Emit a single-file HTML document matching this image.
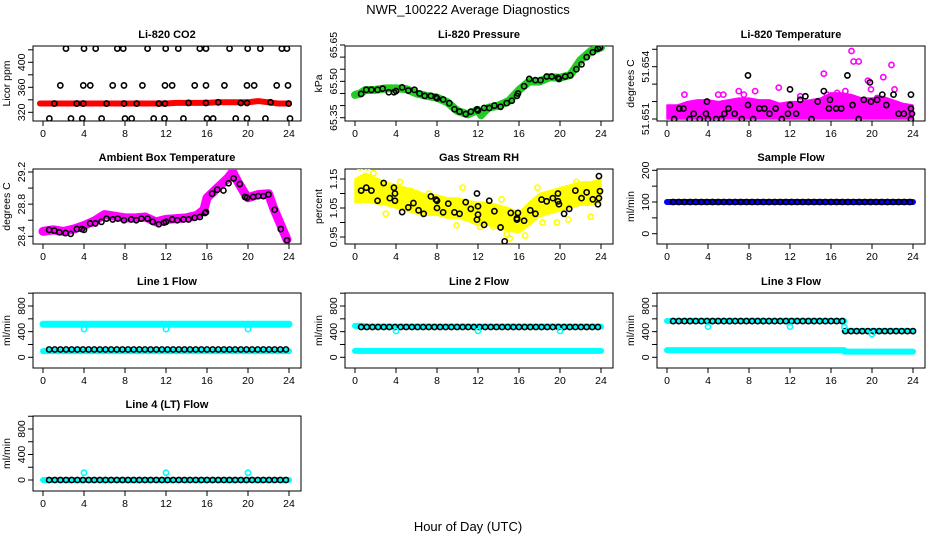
<!DOCTYPE html>
<html><head><meta charset="utf-8">
<style>
html,body{margin:0;padding:0;background:#fff;}
svg{display:block;font-family:"Liberation Sans",Arial,sans-serif;}
</style></head>
<body>
<svg id="chart" width="936" height="540" viewBox="0 0 936 540">
<text x="468" y="14" text-anchor="middle" font-size="13">NWR_100222  Average Diagnostics</text>
<text x="468" y="531" text-anchor="middle" font-size="13">Hour of Day (UTC)</text>
</svg>
<script>
// ---------- data ----------
const xTicks = [0,4,8,12,16,20,24];
// CO2
const co2TopH = [2.24,4.0,5.14,7.25,7.83,10.2,11.97,13.2,15.3,15.9,18.2,19.97,21.2,23.3,23.8];
const co2TopV = [422,422,422,422,422,422,422,422,422,422,422,422,422,422,422];
const co2MidH = [1.69,3.93,4.61,6.8,7.9,9.7,11.9,12.6,14.8,15.9,17.7,19.9,20.6,22.8,23.9];
const co2MidV = [363,363,363,363,363,363,363,363,363,363,363,363,363,363,363];
const co2BandPtH = [1.1,3.29,3.93,6.2,7.9,9.14,11.3,11.9,14.2,15.9,17.1,19.3,19.9,22.2,23.97];
const co2BandPtV = [334,334,334,334,334,334,334,334,335,335,336,335,335,336,334];
const co2LowH = [0.62,2.73,3.83,5.72,8.0,8.65,10.8,11.85,13.7,16.0,16.6,18.8,19.9,21.7,24.1];
const co2LowV = [310,310,310,310,310,310,310,310,310,310,310,310,310,310,310];
const co2RedH = [-0.3,2,4,6,8,10,12,13,14,16,17,18,20,21,22,23,24];
const co2RedV = [334,334,334,334,334,334,334,335,335,335,336,336,336,338,336,334,334];
// Pressure
const presH = [0,0.5,1,2,3,4,5,6,7,8,9,10,11,12,12.3,13,14,15,16,17,18,19,20,21,22,23,24];
const presV = [65.444,65.45,65.464,65.465,65.471,65.471,65.468,65.45,65.44,65.433,65.414,65.378,65.364,65.382,65.36,65.391,65.4,65.419,65.464,65.5,65.499,65.517,65.515,65.526,65.588,65.625,65.64];
const presPtH = [0.6,1.1,1.6,2.2,2.7,3.3,3.8,4.0,4.6,5.2,5.8,6.3,6.8,7.4,7.9,8.0,8.6,9.2,9.7,10.2,10.8,11.3,11.9,12.0,12.6,13.1,13.6,14.2,14.8,15.3,15.8,15.9,16.5,17.0,17.6,18.1,18.7,19.2,19.8,19.9,20.5,21.0,21.6,22.1,22.6,23.2,23.7,23.9];
const presPtV = [65.448,65.465,65.465,65.465,65.47,65.455,65.455,65.46,65.475,65.462,65.465,65.45,65.44,65.44,65.435,65.43,65.425,65.41,65.385,65.375,65.365,65.375,65.385,65.38,65.39,65.39,65.4,65.395,65.41,65.42,65.44,65.45,65.48,65.51,65.505,65.505,65.52,65.52,65.515,65.51,65.52,65.525,65.55,65.57,65.6,65.62,65.635,65.64];
// Ambient box temperature
const ambH = [0,1,2,3,4,5,6,7,8,9,10,11,12,13,14,15,15.7,16,17,18,18.5,19,19.6,20,21,22,22.5,23,23.8];
const ambV = [28.462,28.48,28.46,28.49,28.535,28.59,28.67,28.65,28.63,28.63,28.64,28.58,28.61,28.62,28.63,28.66,28.73,28.88,29.0,29.12,29.2,29.08,28.95,28.88,28.92,28.93,28.75,28.6,28.36];
const ambPtH = [0.6,1.1,1.6,2.2,2.7,3.3,3.8,4.0,4.6,5.1,5.7,6.2,6.8,7.3,7.9,8.6,9.1,9.6,10.2,10.7,11.3,11.8,12.0,12.6,13.1,13.7,14.2,14.8,15.3,15.8,15.9,16.5,17.0,17.6,18.1,18.6,19.2,19.7,19.9,20.5,21.0,21.5,22.0,22.6,23.2,23.8];
const ambPtV = [28.48,28.47,28.45,28.44,28.43,28.49,28.49,28.48,28.56,28.56,28.58,28.62,28.61,28.62,28.6,28.61,28.6,28.62,28.62,28.58,28.55,28.57,28.58,28.61,28.6,28.61,28.61,28.63,28.64,28.69,28.7,28.93,28.98,28.97,29.06,29.12,29.05,28.89,28.88,28.89,28.9,28.9,28.92,28.73,28.49,28.35];
// Li-820 temperature
const tmpH = [0,1,2,3,4,5,6,7,8,9,10,11,12,13,14,15,16,17,18,19,20,21,22,23,24];
const tmpLo = [51.651,51.651,51.651,51.651,51.651,51.651,51.651,51.651,51.651,51.651,51.651,51.651,51.651,51.651,51.651,51.651,51.651,51.651,51.651,51.651,51.651,51.651,51.651,51.651,51.651];
const tmpHi = [51.6518,51.6518,51.652,51.6521,51.6521,51.652,51.6521,51.6522,51.6522,51.6521,51.6521,51.6519,51.652,51.652,51.6521,51.6522,51.6525,51.6525,51.6524,51.6522,51.6522,51.6523,51.6521,51.6519,51.6518];
const tmpOutH = [1.7,5,5.5,7,7.5,8.6,10.9,13,15.3,15.6,16.6,17.4,18,18.2,18.7,19.6,19.9,20.5,21.1,21.9,22.2];
const tmpOutV = [51.6524,51.6524,51.6524,51.6526,51.6524,51.6526,51.6528,51.6523,51.6536,51.6524,51.6525,51.6526,51.6549,51.6543,51.6543,51.6532,51.6527,51.6522,51.6534,51.6541,51.6527];
const tmpPtH = [0.7,1.2,1.6,2.2,2.6,3.2,3.8,3.9,4.0,4.8,5.3,5.6,6.0,6.6,7.3,7.9,7.9,8.4,9.0,9.5,10.0,10.6,11.2,11.8,12.0,12.0,12.6,13.0,13.5,14.1,14.7,15.3,15.8,15.9,16.5,17.0,17.6,18.1,18.7,19.2,19.8,19.9,20.5,21.0,21.4,22.1,22.6,23.1,23.8,23.8,23.9,23.8];
const tmpPtV = [51.651,51.6516,51.6516,51.651,51.6513,51.651,51.6513,51.652,51.651,51.651,51.651,51.6513,51.6516,51.6513,51.651,51.6535,51.6518,51.651,51.6516,51.6516,51.6513,51.6516,51.651,51.6513,51.6527,51.6518,51.6513,51.6521,51.6523,51.651,51.652,51.6526,51.6516,51.6521,51.6516,51.6516,51.6535,51.6518,51.651,51.6521,51.6531,51.652,51.6521,51.6524,51.6518,51.6524,51.6513,51.6513,51.6524,51.6516,51.6513,51.651];
// Gas stream RH
const rhH = [0,1,2,3,4,5,6,7,8,9,10,11,12,13,14,15,16,17,18,19,20,21,22,23,24];
const rhMid = [1.11,1.12,1.11,1.10,1.09,1.08,1.07,1.06,1.06,1.05,1.05,1.04,1.03,1.03,1.02,1.01,1.00,1.03,1.06,1.07,1.08,1.09,1.10,1.10,1.11];
const rhHalf = [0.04,0.05,0.045,0.04,0.04,0.04,0.04,0.035,0.035,0.035,0.035,0.035,0.04,0.04,0.04,0.04,0.035,0.04,0.04,0.04,0.04,0.04,0.04,0.04,0.04];
const rhOutH = [0.5,1.2,1.8,4.4,5.4,7.2,10.5,12.2,13.5,14.3,14.8,15.1,16.6,17.8,18.3,19.7,20.8,21.6,23.0,9.9,3.0];
const rhOutV = [1.19,1.19,1.17,1.14,1.11,1.10,1.12,0.985,0.985,1.08,0.96,0.945,0.955,1.12,1.0,1.0,1.01,1.14,1.02,0.99,1.03];
const rhPtH = [0.6,1.1,1.6,2.2,2.8,3.4,3.8,3.9,3.9,4.6,5.2,5.7,6.2,6.7,7.4,7.9,8.0,8.0,8.6,9.1,9.7,10.2,10.8,11.3,11.9,12.0,12.0,11.9,12.6,13.1,13.6,14.2,14.6,15.2,15.8,15.9,15.8,16.5,17.1,17.6,18.2,18.7,19.3,19.8,19.8,19.9,20.4,20.9,21.5,22.1,22.6,23.2,23.7,23.8,23.8,23.9];
const rhPtV = [1.11,1.12,1.11,1.075,1.136,1.084,1.12,1.1,1.075,1.036,1.052,1.067,1.042,1.03,1.09,1.079,1.075,1.05,1.035,1.065,1.035,1.03,1.07,1.047,1.1,1.056,1.027,1.01,0.992,1.075,1.039,0.983,0.935,1.033,1.01,1.033,1.015,1.006,1.042,1.03,1.079,1.073,1.084,1.1,1.073,1.063,1.03,1.047,1.11,1.084,1.104,1.08,1.063,1.084,1.16,1.108];
// Flows: segments [startHour, endHour, value]
const sampleBlue = [[0,24,100]];
const sampleBlack = [[0.6,24,100]];
const l1CyanTop = [[0,24,516]];
const l1CyanLow = [[0,24,97]];
const l1Black = [[0.6,24,122]];
const l1DipH = [4,12,20]; const l1DipV = [440,440,440];
const l2CyanTop = [[0,0.8,490],[0.8,24,478]];
const l2CyanLow = [[0,24,100]];
const l2Black = [[0.6,24,472]];
const l2DipH = [4,12,20]; const l2DipV = [410,410,410];
const l3CyanTop = [[0,17.3,567],[17.3,24,410]];
const l3CyanLow = [[0,17.3,112],[17.3,24,88]];
const l3Black = [[0.6,17.3,565],[17.4,24,408]];
const l3DipH = [4,12,17.3,20]; const l3DipV = [478,478,470,362];
const l4Cyan = [[0,24,0]];
const l4Black = [[0.6,24,0]];
const l4DipH = [4,12,20]; const l4DipV = [115,115,115];

// ---------- drawing ----------
const NS = 'http://www.w3.org/2000/svg';
const svg = document.getElementById('chart');
const colX0 = [43, 355, 667];
const rowTop = [46, 169, 293, 416];
const PXH = 10.25, BOXH = 75;
function el(tag, attrs, parent){ const e = document.createElementNS(NS, tag); for (const k in attrs) e.setAttribute(k, attrs[k]); (parent||svg).appendChild(e); return e; }

function makePanel(col, row, title, ylab, v0, p0, v1, p1, yTickVals, yLabelVals, name){
  const x0 = colX0[col], top = rowTop[row], bot = top + BOXH;
  const left = x0 - 10, right = x0 + 258;
  const g = el('g', {});
  
  
  const xs = h => x0 + h * PXH;
  const ys = v => p0 + (v - v0) * (p1 - p0) / (v1 - v0);
  const box = el('rect', {x:left, y:top, width:right-left, height:BOXH, fill:'none', stroke:'#000', 'stroke-width':1}, g);
  
  
  const t = el('text', {x:(left+right)/2, y:top-8, 'text-anchor':'middle', 'font-size':11, 'font-weight':'bold'}, g);
  t.textContent = title;
  
  
  const yl = el('text', {transform:`translate(${left-23},${(top+bot)/2}) rotate(-90)`, 'text-anchor':'middle', 'font-size':10.5}, g);
  yl.textContent = ylab;
  
  
  xTicks.forEach(h => {
    el('line', {x1:xs(h), x2:xs(h), y1:bot, y2:bot+5, stroke:'#000'}, g);
    const tx = el('text', {x:xs(h), y:bot+16, 'text-anchor':'middle', 'font-size':10.5}, g);
    tx.textContent = h;
    
    
  });
  yTickVals.forEach(v => el('line', {x1:left-5, x2:left, y1:ys(v), y2:ys(v), stroke:'#000'}, g));
  yLabelVals.forEach(v => {
    const ty = el('text', {transform:`translate(${left-8},${ys(v)}) rotate(-90)`, 'text-anchor':'middle', 'font-size':10.5}, g);
    ty.textContent = v;
    
    
  });
  const clipId = 'c' + col + row;
  const cp = el('clipPath', {id:clipId}, g);
  el('rect', {x:left, y:top, width:right-left, height:BOXH}, cp);
  const dg = el('g', {'clip-path':`url(#${clipId})`}, g);
  return {xs, ys, g:dg};
}
function line(P, H, V, color, w, name){
  const pts = H.map((h,i) => P.xs(h) + ',' + P.ys(V[i])).join(' ');
  const l = el('polyline', {points:pts, fill:'none', stroke:color, 'stroke-width':w, 'stroke-linejoin':'round', 'stroke-linecap':'round'}, P.g);
  
  
}
function points(P, H, V, color, name, r){
  H.forEach((h,i) => {
    const c = el('circle', {cx:P.xs(h), cy:P.ys(V[i]), r:r||2.6, fill:'none', stroke:color, 'stroke-width':1.6}, P.g);
    
    
  });
}
function area(P, H, lo, hi, color, name){
  const a = H.map((h,i) => P.xs(h) + ',' + P.ys(hi[i]));
  const b = H.map((h,i) => P.xs(h) + ',' + P.ys(lo[i])).reverse();
  const p = el('polygon', {points:a.concat(b).join(' '), fill:color, stroke:color, 'stroke-width':1.5, 'stroke-linejoin':'round'}, P.g);
  
  
}
function segBand(P, segs, color, w, name){
  segs.forEach(s => {
    const l = el('line', {x1:P.xs(s[0]), x2:P.xs(s[1]), y1:P.ys(s[2]), y2:P.ys(s[2]), stroke:color, 'stroke-width':w, 'stroke-linecap':'round'}, P.g);
    
    
  });
}
function segMarkers(P, segs, color, name){
  segs.forEach(s => {
    for (let h = s[0]; h <= s[1] + 1e-6; h += 0.55) {
      const c = el('circle', {cx:P.xs(h), cy:P.ys(s[2]), r:2.6, fill:'none', stroke:color, 'stroke-width':1.6}, P.g);
      
      
    }
  });
}

// Row 1
let P = makePanel(0,0,'Li-820 CO2','Licor ppm',320,112.3,400,62.3,[320,340,360,380,400,420],[320,360,400],'co2');
line(P, co2RedH, co2RedV, '#ff0000', 6, 'co2-band');
points(P, co2TopH, co2TopV, '#000', 'co2-point');
points(P, co2MidH, co2MidV, '#000', 'co2-point');
points(P, co2BandPtH, co2BandPtV, '#000', 'co2-point');
points(P, co2LowH, co2LowV, '#000', 'co2-point');

P = makePanel(1,0,'Li-820 Pressure','kPa',65.35,117.7,65.65,45,[65.35,65.40,65.45,65.50,65.55,65.60,65.65],['65.35','65.50','65.65'],'pressure');
line(P, presH, presV, '#22cc22', 8, 'pressure-band');
points(P, presPtH, presPtV, '#000', 'pressure-point');

P = makePanel(2,0,'Li-820 Temperature','degrees C',51.651,119,51.654,66.7,[51.651,51.652,51.653,51.654,51.655],['51.651','51.654'],'li820-temp');
area(P, tmpH, tmpLo, tmpHi, '#ff00ff', 'temp-band');
points(P, tmpOutH, tmpOutV, '#ff00ff', 'temp-outlier');
points(P, tmpPtH, tmpPtV, '#000', 'temp-point');

// Row 2
P = makePanel(0,1,'Ambient Box Temperature','degrees C',28.4,236.3,29.2,172,[28.4,28.6,28.8,29.0,29.2],['28.4','28.8','29.2'],'ambient');
line(P, ambH, ambV, '#ff00ff', 9, 'ambient-band');
points(P, ambPtH, ambPtV, '#000', 'ambient-point');

P = makePanel(1,1,'Gas Stream RH','percent',0.95,237,1.15,179,[0.95,1.0,1.05,1.10,1.15],['0.95','1.05','1.15'],'rh');
area(P, rhH, rhMid.map((m,i)=>m-rhHalf[i]), rhMid.map((m,i)=>m+rhHalf[i]), '#ffff00', 'rh-band');
points(P, rhOutH, rhOutV, '#ffff00', 'rh-outlier');
points(P, rhPtH, rhPtV, '#000', 'rh-point');

P = makePanel(2,1,'Sample Flow','ml/min',0,233.7,200,170.3,[0,50,100,150,200],[0,100,200],'sample-flow');
segBand(P, sampleBlue, '#0000ff', 6, 'sample-flow-band');
segMarkers(P, sampleBlack, '#000', 'sample-flow-point');

// Row 3
const fT = [0,200,400,600,800,1000], fL = [0,400,800];
P = makePanel(0,2,'Line 1 Flow','ml/min',0,357.3,800,306,fT,fL,'line1');
segBand(P, l1CyanTop, '#00ffff', 7, 'line1-cyan-upper');
segBand(P, l1CyanLow, '#00ffff', 6, 'line1-cyan-lower');
segMarkers(P, l1Black, '#000', 'line1-point');
points(P, l1DipH, l1DipV, '#00ffff', 'line1-dip');

P = makePanel(1,2,'Line 2 Flow','ml/min',0,357.3,800,306,fT,fL,'line2');
segBand(P, l2CyanTop, '#00ffff', 6, 'line2-cyan-upper');
segBand(P, l2CyanLow, '#00ffff', 6, 'line2-cyan-lower');
segMarkers(P, l2Black, '#000', 'line2-point');
points(P, l2DipH, l2DipV, '#00ffff', 'line2-dip');

P = makePanel(2,2,'Line 3 Flow','ml/min',0,357.3,800,306,fT,fL,'line3');
segBand(P, l3CyanTop, '#00ffff', 6, 'line3-cyan-upper');
segBand(P, l3CyanLow, '#00ffff', 6, 'line3-cyan-lower');
segMarkers(P, l3Black, '#000', 'line3-point');
points(P, l3DipH, l3DipV, '#00ffff', 'line3-dip');

// Row 4
P = makePanel(0,3,'Line 4 (LT) Flow','ml/min',0,480,800,429,fT,fL,'line4');
segBand(P, l4Cyan, '#00ffff', 6, 'line4-cyan');
segMarkers(P, l4Black, '#000', 'line4-point');
points(P, l4DipH, l4DipV, '#00ffff', 'line4-dip');
</script>
</body></html>
